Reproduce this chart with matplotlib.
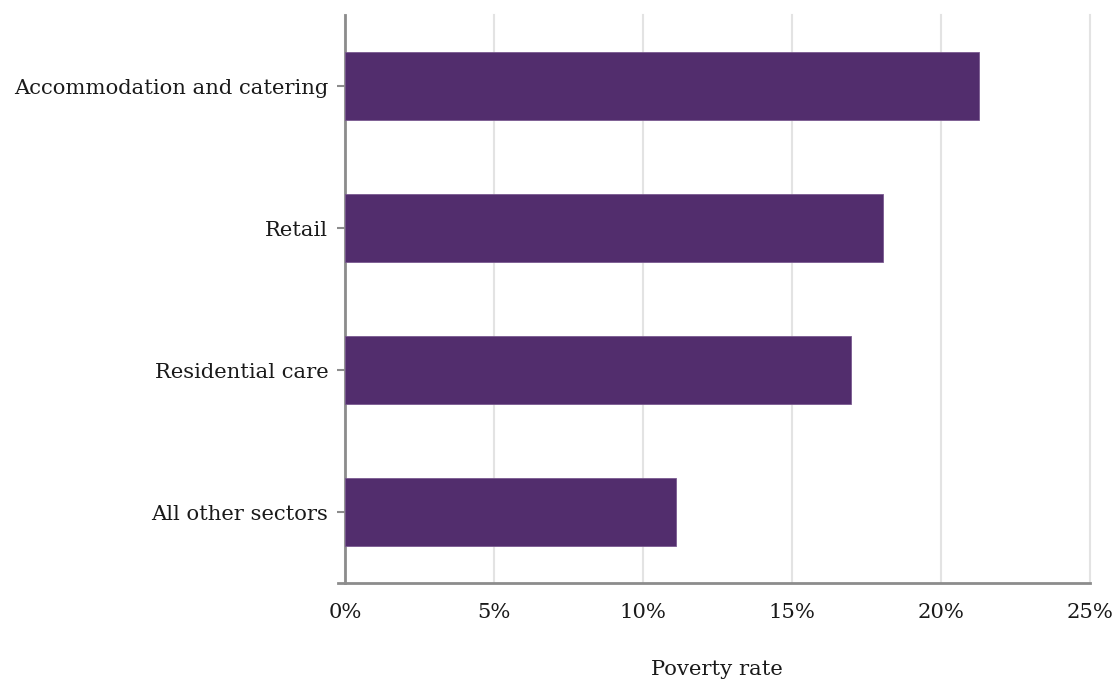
import matplotlib.pyplot as plt
from matplotlib.ticker import FuncFormatter

plt.rcParams['font.family'] = ['DejaVu Serif']

sectors = ["All other sectors", "Residential care", "Retail", "Accommodation and catering"]
rates = [11.1, 17.0, 18.05, 21.3]

fig = plt.figure(figsize=(11.13, 6.82), dpi=100)
ax = fig.add_axes([0.31, 0.145, 0.669, 0.833])

ax.barh(range(len(sectors)), rates, height=0.48, color="#522D6D", edgecolor="#7A5A90", linewidth=0.6, zorder=3)

ax.set_xlim(0, 25)
ax.set_ylim(-0.5, 3.5)
ax.set_xticks([0, 5, 10, 15, 20, 25])
ax.xaxis.set_major_formatter(FuncFormatter(lambda v, p: "{:.0f}%".format(v)))
ax.set_yticks(range(len(sectors)))
ax.set_yticklabels(sectors)

ax.grid(axis="x", color="#E3E3E3", linewidth=1.5, zorder=0)
ax.grid(axis="x", which="major", clip_on=False)
for s in ["top", "right"]:
    ax.spines[s].set_visible(False)
for s in ["left", "bottom"]:
    ax.spines[s].set_color("#8C8C8C")
    ax.spines[s].set_linewidth(2)
ax.spines["bottom"].set_bounds(-0.25, 25)
for gl in ax.get_xgridlines():
    gl.set_clip_on(False)

ax.tick_params(axis="x", length=0, pad=14, labelsize=15.2, colors="#1a1a1a")
ax.tick_params(axis="y", length=6, width=1.5, color="#8C8C8C", pad=6, labelsize=15.2, labelcolor="#1a1a1a")
ax.set_xlabel("Poverty rate", fontsize=15.2, labelpad=28, color="#1a1a1a")

fig.savefig("out.png", dpi=100)
